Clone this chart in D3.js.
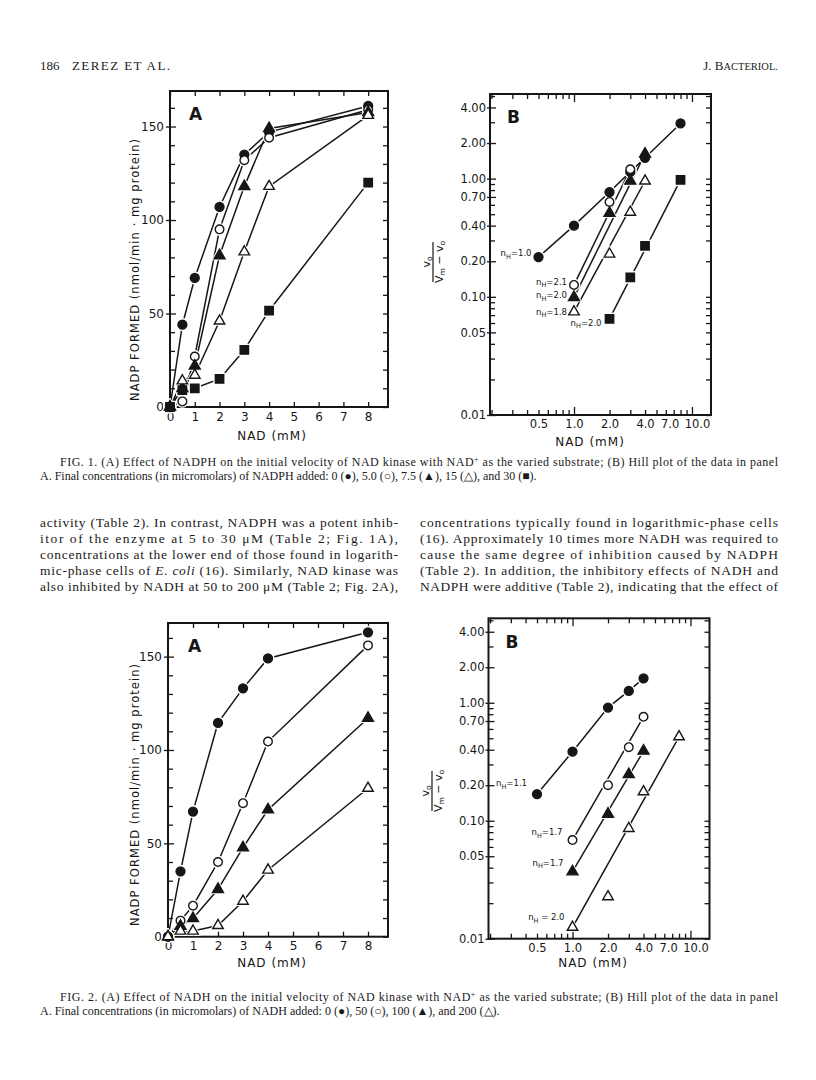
<!DOCTYPE html>
<meta charset="utf-8">
<html>
<body style="margin:0;background:#fff">
<div id="page"></div>
<script src="https://cdn.jsdelivr.net/npm/d3@7"></script>
<script>
// NAD concentrations (mM) used in both A panels
var nadA = [0, 0.5, 1, 2, 3, 4, 8];

// Fig. 1A - NADP formed (nmol/min.mg protein), one array per NADPH level (uM)
var f1aNone = [0, 44, 69, 107, 135, 147, 161];
var f1a5    = [0, 3, 27, 95, 132, 144, 159];
var f1a7_5  = [0, 10, 22, 81, 118, 149, 157.5];
var f1a15   = [0, 14, 17, 46, 83, 118, 156];
var f1a30   = [0, 9, 10, 15, 30.5, 51.5, 120];

// Fig. 1B - Hill plot, v0/(Vm-v0) against NAD (mM)
var f1bNoneX = [0.5, 1, 2, 3, 4, 8],  f1bNoneY = [0.217, 0.40, 0.77, 1.14, 1.5, 2.93];
var f1b5X    = [1, 2, 3],             f1b5Y    = [0.126, 0.635, 1.2];
var f1b7_5X  = [1, 2, 3, 4],          f1b7_5Y  = [0.099, 0.51, 0.955, 1.62];
var f1b15X   = [1, 2, 3, 4],          f1b15Y   = [0.0746, 0.23, 0.52, 0.955];
var f1b30X   = [2, 3, 4, 8],          f1b30Y   = [0.065, 0.146, 0.27, 0.975];
var f1bHill  = ["1.0", "2.1", "2.0", "1.8", "2.0"];

// Fig. 2A - NADP formed, one array per NADH level (uM)
var f2aNone = [0, 35, 67, 114.5, 133, 149, 163];
var f2a50   = [0, 8.6, 16.6, 40, 71.5, 104.5, 156];
var f2a100  = [0, 5.7, 9.8, 25.4, 47.7, 68, 117];
var f2a200  = [0, 3, 3, 6, 19, 35.7, 79.5];

// Fig. 2B - Hill plot
var f2bNoneX = [0.5, 1, 2, 3, 4],   f2bNoneY = [0.168, 0.385, 0.91, 1.26, 1.61];
var f2b50X   = [1, 2, 3, 4],        f2b50Y   = [0.0686, 0.2, 0.42, 0.76];
var f2b100X  = [1, 2, 3, 4],        f2b100Y  = [0.037, 0.114, 0.247, 0.39];
var f2b200X  = [1, 2, 3, 4, 8],     f2b200Y  = [0.0125, 0.0227, 0.086, 0.176, 0.515];
var f2bHill  = ["1.1", "1.7", "1.7", " = 2.0"];

// tick labels
var linXTicks = [0, 1, 2, 3, 4, 5, 6, 7, 8];
var linYLabels = [0, 50, 100, 150];
var logXLabels = [0.5, 1, 2, 4, 7, 10];
var logYLabels = [0.01, 0.05, 0.1, 0.2, 0.4, 0.7, 1, 2, 4];

var ink = "#161616";
var sans = "DejaVu Sans", serif = "Liberation Serif";

var svg = d3.select("#page").append("svg").attr("width", 816).attr("height", 1080);
svg.append("rect").attr("width", 816).attr("height", 1080).attr("fill", "#fff");

function zip(xs, ys) { return xs.map(function (x, i) { return [x, ys[i]]; }); }

var symbolOf = {
  dot:  [d3.symbolCircle, 62, true],
  ring: [d3.symbolCircle, 58, false],
  tri:  [d3.symbolTriangle, 52, true],
  otri: [d3.symbolTriangle, 48, false],
  sq:   [d3.symbolSquare, 70, true]
};

function styleAxis(g, size) {
  g.select(".domain").remove();
  g.selectAll("line").attr("stroke", ink).attr("stroke-width", 1.3);
  g.selectAll("text").attr("fill", ink).style("font-family", sans).style("font-size", size + "px");
}

function drawPanel(p) {
  var g = svg.append("g");
  var xs = p.xs, ys = p.ys;
  var x0 = xs.range()[0], x1 = xs.range()[1], yb = ys.range()[0], yt = ys.range()[1];

  if (p.log) {
    var xt = logTicks(xs.domain()), yv = logTicks(ys.domain());
    var gb = g.append("g").attr("transform", "translate(0," + yb + ")")
      .call(d3.axisBottom(xs).tickValues(xt).tickSize(-5).tickPadding(5)
        .tickFormat(function (d) { return logXLabels.indexOf(d) >= 0 ? d3.format(".1f")(d) : ""; }));
    gb.selectAll(".tick line").filter(function (d) { return d === 1 || d === 10; }).attr("y2", -8);
    styleAxis(gb, 11.5);
    // the printed 7.0 and 10.0 sit a little apart from their ticks
    gb.selectAll(".tick text").attr("dx", function (d) { return d === 7 ? -4 : d === 10 ? 5 : 0; });
    var gt = g.append("g").attr("transform", "translate(0," + yt + ")")
      .call(d3.axisTop(xs).tickValues(xt).tickSize(-5).tickFormat(""));
    gt.selectAll(".tick line").filter(function (d) { return d === 1 || d === 10; }).attr("y2", 8);
    styleAxis(gt, 11);
    var gl = g.append("g").attr("transform", "translate(" + x0 + ",0)")
      .call(d3.axisLeft(ys).tickValues(yv).tickSize(-5).tickPadding(4)
        .tickFormat(function (d) { return logYLabels.indexOf(d) >= 0 ? d3.format(".2f")(d) : ""; }));
    gl.selectAll(".tick line").filter(function (d) { return logYLabels.indexOf(d) >= 0; })
      .attr("x1", -3).attr("x2", 6);
    styleAxis(gl, 11.5);
    var gr = g.append("g").attr("transform", "translate(" + x1 + ",0)")
      .call(d3.axisRight(ys).tickValues(yv).tickSize(-5).tickFormat(""));
    styleAxis(gr, 11);
  } else {
    var yv2 = d3.range(0, ys.domain()[1], 10);
    var gb2 = g.append("g").attr("transform", "translate(0," + yb + ")")
      .call(d3.axisBottom(xs).tickValues(linXTicks).tickSize(-5).tickPadding(5).tickFormat(d3.format("d")));
    styleAxis(gb2, 12);
    var gt2 = g.append("g").attr("transform", "translate(0," + yt + ")")
      .call(d3.axisTop(xs).tickValues(linXTicks).tickSize(-5).tickFormat(""));
    styleAxis(gt2, 12);
    var gl2 = g.append("g").attr("transform", "translate(" + x0 + ",0)")
      .call(d3.axisLeft(ys).tickValues(yv2).tickSize(-5).tickPadding(6)
        .tickFormat(function (d) { return linYLabels.indexOf(d) >= 0 ? d : ""; }));
    gl2.selectAll(".tick line").filter(function (d) { return linYLabels.indexOf(d) >= 0; })
      .attr("x1", -4).attr("x2", 6);
    styleAxis(gl2, 12);
    var gr2 = g.append("g").attr("transform", "translate(" + x1 + ",0)")
      .call(d3.axisRight(ys).tickValues(yv2).tickSize(-5).tickFormat(""));
    styleAxis(gr2, 12);
  }

  g.append("rect").attr("x", x0).attr("y", yt).attr("width", x1 - x0).attr("height", yb - yt)
    .attr("fill", "none").attr("stroke", ink).attr("stroke-width", 2);

  // connecting lines
  var line = d3.line().x(function (d) { return xs(d[0]); }).y(function (d) { return ys(d[1]); });
  p.series.forEach(function (s) {
    var pts = s.straight ? [s.pts[0], s.pts[s.pts.length - 1]] : s.pts;
    g.append("path").attr("d", line(pts)).attr("fill", "none")
      .attr("stroke", ink).attr("stroke-width", 1.5);
  });
  // white halo under each marker, then the marker
  p.series.forEach(function (s) {
    var sym = symbolOf[s.shape];
    g.selectAll(null).data(s.pts).join("path")
      .attr("transform", function (d) { return "translate(" + xs(d[0]) + "," + ys(d[1]) + ")"; })
      .attr("d", d3.symbol(sym[0], sym[1] * 1.9)())
      .attr("fill", "#fff").attr("stroke", "#fff").attr("stroke-width", 1);
  });
  p.series.forEach(function (s) {
    var sym = symbolOf[s.shape];
    g.selectAll(null).data(s.pts).join("path")
      .attr("transform", function (d) { return "translate(" + xs(d[0]) + "," + ys(d[1]) + ")"; })
      .attr("d", d3.symbol(sym[0], sym[1])())
      .attr("fill", sym[2] ? ink : "#fff").attr("stroke", ink).attr("stroke-width", 1.4);
  });

  // Hill coefficients
  if (p.hill) {
    p.series.forEach(function (s, i) {
      var lab = p.hill[i], pt = s.pts[0];
      var t = g.append("text").attr("x", xs(pt[0]) + lab.dx).attr("y", ys(pt[1]) + lab.dy)
        .attr("text-anchor", "end").attr("fill", ink)
        .style("font-family", sans).style("font-size", "8.5px");
      t.append("tspan").text("n");
      t.append("tspan").attr("dy", 2.5).style("font-size", "6.5px").text("H");
      t.append("tspan").attr("dy", -2.5).text(lab.t.charAt(0) === " " ? lab.t : "=" + lab.t);
    });
  }

  // panel letter
  g.append("text").attr("x", x0 + p.letterAt[0]).attr("y", yt + p.letterAt[1])
    .attr("fill", ink).style("font-family", sans).style("font-size", "17px")
    .style("font-weight", "bold").text(p.letter);

  // x title
  g.append("text").attr("x", p.xTitle[0]).attr("y", p.xTitle[1]).attr("text-anchor", "middle")
    .attr("fill", ink).style("font-family", sans).style("font-size", "12px")
    .style("letter-spacing", "1px").text("NAD (mM)");

  // y title
  if (p.log) {
    var yg = g.append("g").attr("transform", "translate(" + p.yTitle[0] + "," + p.yTitle[1] + ") rotate(-90)");
    var num = yg.append("text").attr("x", 0).attr("y", -4).attr("text-anchor", "middle")
      .attr("fill", ink).style("font-family", sans).style("font-size", "11px");
    num.append("tspan").text("v");
    num.append("tspan").attr("dy", 2).style("font-size", "7.5px").text("o");
    yg.append("line").attr("x1", -20).attr("x2", 20).attr("y1", -1).attr("y2", -1)
      .attr("stroke", ink).attr("stroke-width", 1.2);
    var den = yg.append("text").attr("x", 0).attr("y", 9).attr("text-anchor", "middle")
      .attr("fill", ink).style("font-family", sans).style("font-size", "11px");
    den.append("tspan").text("V");
    den.append("tspan").attr("dy", 2).style("font-size", "7.5px").text("m");
    den.append("tspan").attr("dy", -2).text(" \u2212 v");
    den.append("tspan").attr("dy", 2).style("font-size", "7.5px").text("o");
  } else {
    g.append("text").attr("transform", "translate(" + p.yTitle[0] + "," + p.yTitle[1] + ") rotate(-90)")
      .attr("text-anchor", "middle").attr("fill", ink)
      .attr("textLength", 262).attr("lengthAdjust", "spacing")
      .style("font-family", sans).style("font-size", "11.5px")
      .text("NADP  FORMED  (nmol/min \u00b7 mg protein)");
  }
}

function logTicks(dom) {
  var out = [];
  for (var e = -3; e <= 2; e++) {
    for (var m = 1; m < 10; m++) {
      var v = +(m * Math.pow(10, e)).toPrecision(3);
      if (v >= dom[0] * 0.999 && v <= dom[1] * 0.99) out.push(v);
    }
  }
  return out;
}

function linSeries(ys, shape) { return { pts: zip(nadA, ys), shape: shape }; }
function logSeries(xv, yv, shape, straight) { return { pts: zip(xv, yv), shape: shape, straight: straight }; }

drawPanel({
  xs: d3.scaleLinear().domain([0, 8.8]).range([170, 388]),
  ys: d3.scaleLinear().domain([0, 169]).range([407, 91]),
  letter: "A", letterAt: [19, 29], xTitle: [272, 440], yTitle: [139, 270],
  series: [linSeries(f1aNone, "dot"), linSeries(f1a5, "ring"), linSeries(f1a7_5, "tri"),
           linSeries(f1a15, "otri"), linSeries(f1a30, "sq")]
});

drawPanel({
  log: true,
  xs: d3.scaleLog().domain([0.194, 14.5]).range([490, 711]),
  ys: d3.scaleLog().domain([0.01, 5.2]).range([415, 94]),
  letter: "B", letterAt: [17, 29], xTitle: [590, 446], yTitle: [434, 262],
  series: [logSeries(f1bNoneX, f1bNoneY, "dot"), logSeries(f1b5X, f1b5Y, "ring", true),
           logSeries(f1b7_5X, f1b7_5Y, "tri", true), logSeries(f1b15X, f1b15Y, "otri", true),
           logSeries(f1b30X, f1b30Y, "sq", true)],
  hill: [{ t: f1bHill[0], dx: -7, dy: -1 }, { t: f1bHill[1], dx: -7, dy: 0 },
         { t: f1bHill[2], dx: -7, dy: 1 }, { t: f1bHill[3], dx: -7, dy: 3 },
         { t: f1bHill[4], dx: -8, dy: 7 }]
});

drawPanel({
  xs: d3.scaleLinear().domain([0, 8.8]).range([168, 388]),
  ys: d3.scaleLinear().domain([0, 168]).range([936.7, 623]),
  letter: "A", letterAt: [20, 29], xTitle: [272, 967], yTitle: [139, 795],
  series: [linSeries(f2aNone, "dot"), linSeries(f2a50, "ring"), linSeries(f2a100, "tri"),
           linSeries(f2a200, "otri")]
});

drawPanel({
  log: true,
  xs: d3.scaleLog().domain([0.194, 14.5]).range([488.5, 709.5]),
  ys: d3.scaleLog().domain([0.01, 5.2]).range([938.7, 618.3]),
  letter: "B", letterAt: [17, 30], xTitle: [593, 967], yTitle: [433, 791],
  series: [logSeries(f2bNoneX, f2bNoneY, "dot"), logSeries(f2b50X, f2b50Y, "ring", true),
           logSeries(f2b100X, f2b100Y, "tri", true), logSeries(f2b200X, f2b200Y, "otri", true)],
  hill: [{ t: f2bHill[0], dx: -10, dy: -8 }, { t: f2bHill[1], dx: -10, dy: -5 },
         { t: f2bHill[2], dx: -9, dy: -6 }, { t: f2bHill[3], dx: -8, dy: -7 }]
});

// ---- page text
function serifLine(x, y, size, width) {
  var t = svg.append("text").attr("x", x).attr("y", y).attr("fill", "#1a1a1a")
    .style("font-family", serif).style("font-size", size + "px");
  if (width) t.attr("textLength", width).attr("lengthAdjust", "spacing");
  return t;
}

serifLine(40, 70, 13).text("186");
serifLine(72, 70, 13, 98).text("ZEREZ ET AL.");
var jb = serifLine(778, 70, 13).attr("text-anchor", "end");
jb.append("tspan").text("J. B");
jb.append("tspan").style("font-size", "10.5px").text("ACTERIOL.");

function caption(y, first, second) {
  var t = serifLine(60, y, 12, 718);
  first.forEach(function (part) {
    var s = t.append("tspan").text(part.s);
    if (part.sup) s.attr("dy", -4).style("font-size", "8px");
    if (part.back) s.attr("dy", 4);
  });
  serifLine(40, y + 14, 12).text(second);
}

caption(466, [{ s: "FIG. 1. (A) Effect of NADPH on the initial velocity of NAD kinase with NAD" },
              { s: "+", sup: true }, { s: " as the varied substrate; (B) Hill plot of the data in panel", back: true }],
        "A. Final concentrations (in micromolars) of NADPH added: 0 (\u25cf), 5.0 (\u25cb), 7.5 (\u25b2), 15 (\u25b3), and 30 (\u25a0).");

caption(1001, [{ s: "FIG. 2. (A) Effect of NADH on the initial velocity of NAD kinase with NAD" },
               { s: "+", sup: true }, { s: " as the varied substrate; (B) Hill plot of the data in panel", back: true }],
        "A. Final concentrations (in micromolars) of NADH added: 0 (\u25cf), 50 (\u25cb), 100 (\u25b2), and 200 (\u25b3).");

var leftCol = [
  "activity (Table 2). In contrast, NADPH was a potent inhib-",
  "itor of the enzyme at 5 to 30 \u03bcM (Table 2; Fig. 1A),",
  "concentrations at the lower end of those found in logarith-",
  "mic-phase cells of |E. coli| (16). Similarly, NAD kinase was",
  "also inhibited by NADH at 50 to 200 \u03bcM (Table 2; Fig. 2A),"
];
var rightCol = [
  "concentrations typically found in logarithmic-phase cells",
  "(16). Approximately 10 times more NADH was required to",
  "cause the same degree of inhibition caused by NADPH",
  "(Table 2). In addition, the inhibitory effects of NADH and",
  "NADPH were additive (Table 2), indicating that the effect of"
];
function column(lines, x) {
  lines.forEach(function (ln, i) {
    var t = serifLine(x, 527 + i * 16, 13.5, 358);
    ln.split("|").forEach(function (part, k) {
      var s = t.append("tspan").text(part);
      if (k % 2 === 1) s.style("font-style", "italic");
    });
  });
}
column(leftCol, 40);
column(rightCol, 420);
</script>
</body>
</html>
